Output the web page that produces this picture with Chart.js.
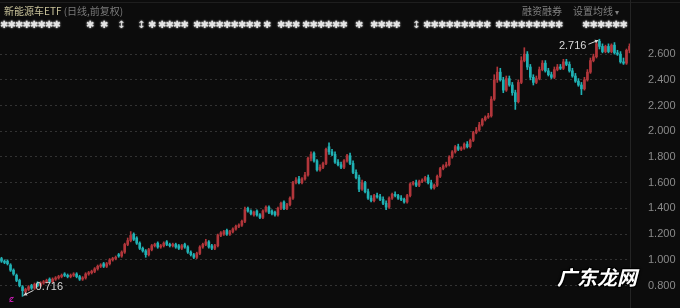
<!DOCTYPE html>
<html>
<head>
<meta charset="utf-8">
<script src="https://cdn.jsdelivr.net/npm/chart.js@4.4.0/dist/chart.umd.min.js"></script>
<style>
html, body { margin: 0; padding: 0; background: #0c0c0c; }
#wrap { position: relative; width: 680px; height: 308px; overflow: hidden; background: #0c0c0c; font-family: "Noto Sans CJK SC", "Noto Sans", sans-serif; }
#myChart { position: absolute; left: 0; top: 0; }
.topline { position: absolute; left: 0; top: 2px; width: 680px; height: 1px; background: #1e1e1e; }
.divider { position: absolute; left: 630px; top: 0; width: 1px; height: 308px; background: #242424; }
.title { position: absolute; left: 4px; top: 4px; font-size: 10px; line-height: 14px; color: #c8c29a; white-space: nowrap; }
.title span { color: #7a7a7a; }
.menu { position: absolute; top: 4px; font-size: 10px; line-height: 14px; color: #808080; white-space: nowrap; }
#marks span { position: absolute; top: 19px; font-size: 10px; line-height: 12px; color: #e4e4e4; text-shadow: 0 0 2px #fff; font-family: "DejaVu Sans", sans-serif; }
.wm { position: absolute; left: 557px; top: 264px; font-size: 20px; line-height: 26px; font-weight: bold; font-style: italic; color: #fff; white-space: nowrap;
      text-shadow: -1px -1px 0 #000, 1px -1px 0 #000, -1px 1px 0 #000, 1px 1px 0 #000, 0 0 3px #000; }
.bmark { position: absolute; left: 9px; top: 294px; font-size: 9px; line-height: 10px; color: #e020c8; font-family: "DejaVu Sans", sans-serif; }
</style>
</head>
<body>
<div id="wrap">
  <canvas id="myChart" width="680" height="308"></canvas>
  <div class="topline"></div>
  <div class="divider"></div>
  <div class="title">新能源车ETF <span>(日线,前复权)</span></div>
  <div class="menu" style="left:522px">融资融券</div>
  <div class="menu" style="left:573px">设置均线 <span style="font-size:8px">▾</span></div>
  <div id="marks"></div>
  <div class="bmark">ȼ</div>
  <div class="wm">广东龙网</div>
</div>
<script>
// Daily candles
const opens = [
  1.01,0.99,0.99,0.96,0.92,0.88,0.84,0.79,0.75,0.77,
  0.80,0.78,0.82,0.80,0.82,0.83,0.85,0.83,0.85,0.86,
  0.87,0.89,0.88,0.87,0.88,0.89,0.87,0.85,0.86,0.89,
  0.90,0.91,0.93,0.95,0.97,0.95,0.97,1.00,1.01,1.04,
  1.03,1.06,1.12,1.15,1.20,1.17,1.13,1.09,1.07,1.04,
  1.08,1.11,1.13,1.10,1.11,1.14,1.12,1.11,1.12,1.11,
  1.09,1.12,1.10,1.06,1.04,1.02,1.05,1.10,1.12,1.14,
  1.11,1.09,1.11,1.19,1.20,1.23,1.20,1.22,1.24,1.26,
  1.27,1.30,1.40,1.38,1.35,1.38,1.35,1.33,1.38,1.41,
  1.38,1.37,1.35,1.40,1.45,1.40,1.43,1.48,1.60,1.63,
  1.60,1.63,1.66,1.79,1.83,1.77,1.70,1.72,1.75,1.88,
  1.84,1.82,1.76,1.74,1.72,1.77,1.81,1.75,1.68,1.64,
  1.55,1.60,1.53,1.48,1.46,1.50,1.49,1.47,1.44,1.41,
  1.48,1.51,1.50,1.48,1.47,1.45,1.50,1.59,1.60,1.58,
  1.61,1.62,1.64,1.60,1.56,1.58,1.65,1.71,1.73,1.74,
  1.80,1.84,1.88,1.86,1.87,1.90,1.88,1.93,1.99,2.01,
  2.05,2.09,2.11,2.12,2.25,2.40,2.46,2.40,2.32,2.41,
  2.36,2.30,2.23,2.38,2.55,2.60,2.50,2.42,2.38,2.41,
  2.48,2.53,2.47,2.44,2.42,2.48,2.50,2.49,2.54,2.52,
  2.47,2.43,2.39,2.36,2.33,2.40,2.46,2.55,2.58,2.70,
  2.66,2.62,2.66,2.62,2.67,2.61,2.60,2.54,2.53,2.63
];
const highs = [
  1.02,1.00,1.00,0.97,0.93,0.89,0.85,0.80,0.78,0.80,
  0.81,0.82,0.83,0.83,0.84,0.85,0.86,0.86,0.87,0.88,
  0.89,0.90,0.89,0.89,0.90,0.90,0.88,0.87,0.90,0.91,
  0.92,0.94,0.96,0.97,0.98,0.98,1.01,1.02,1.03,1.05,
  1.07,1.13,1.17,1.22,1.21,1.18,1.14,1.10,1.08,1.09,
  1.12,1.13,1.14,1.12,1.14,1.15,1.13,1.13,1.13,1.12,
  1.12,1.13,1.11,1.07,1.05,1.06,1.11,1.13,1.16,1.15,
  1.12,1.12,1.20,1.22,1.23,1.24,1.23,1.25,1.27,1.28,
  1.31,1.41,1.41,1.39,1.38,1.39,1.36,1.39,1.42,1.42,
  1.39,1.38,1.41,1.45,1.46,1.44,1.49,1.61,1.64,1.65,
  1.64,1.68,1.80,1.84,1.84,1.78,1.74,1.76,1.87,1.91,
  1.86,1.84,1.78,1.76,1.78,1.82,1.83,1.77,1.70,1.66,
  1.62,1.61,1.55,1.50,1.51,1.52,1.51,1.49,1.46,1.49,
  1.52,1.53,1.51,1.50,1.48,1.51,1.60,1.61,1.62,1.62,
  1.63,1.65,1.66,1.62,1.59,1.66,1.72,1.74,1.76,1.81,
  1.85,1.89,1.90,1.88,1.91,1.92,1.94,2.00,2.03,2.07,
  2.10,2.12,2.14,2.27,2.44,2.50,2.49,2.42,2.43,2.43,
  2.38,2.32,2.40,2.58,2.65,2.62,2.52,2.44,2.43,2.50,
  2.55,2.55,2.49,2.46,2.50,2.52,2.52,2.56,2.56,2.54,
  2.49,2.45,2.41,2.38,2.42,2.48,2.57,2.60,2.69,2.716,
  2.68,2.67,2.68,2.68,2.69,2.63,2.62,2.57,2.64,2.68
];
const lows = [
  0.98,0.97,0.96,0.91,0.88,0.83,0.79,0.716,0.74,0.76,
  0.77,0.77,0.79,0.79,0.81,0.82,0.82,0.82,0.84,0.85,
  0.86,0.87,0.86,0.86,0.87,0.86,0.84,0.84,0.85,0.88,
  0.89,0.90,0.92,0.94,0.94,0.94,0.96,0.99,1.00,1.02,
  1.02,1.05,1.11,1.14,1.15,1.12,1.08,1.06,1.02,1.03,
  1.07,1.10,1.09,1.09,1.10,1.11,1.10,1.10,1.09,1.08,
  1.08,1.09,1.05,1.03,1.01,1.01,1.04,1.09,1.11,1.09,
  1.08,1.08,1.10,1.18,1.19,1.19,1.19,1.21,1.23,1.25,
  1.26,1.29,1.37,1.35,1.34,1.34,1.32,1.32,1.37,1.36,
  1.35,1.34,1.34,1.39,1.39,1.39,1.42,1.47,1.59,1.59,
  1.59,1.62,1.65,1.77,1.76,1.69,1.69,1.71,1.74,1.82,
  1.81,1.75,1.73,1.71,1.71,1.76,1.74,1.67,1.63,1.53,
  1.54,1.52,1.47,1.45,1.45,1.48,1.46,1.43,1.39,1.40,
  1.47,1.49,1.47,1.46,1.44,1.44,1.49,1.58,1.57,1.57,
  1.60,1.61,1.59,1.55,1.55,1.57,1.64,1.70,1.72,1.73,
  1.79,1.83,1.85,1.85,1.86,1.87,1.87,1.92,1.98,2.00,
  2.04,2.08,2.10,2.11,2.24,2.38,2.39,2.30,2.31,2.35,
  2.28,2.17,2.22,2.37,2.54,2.48,2.40,2.36,2.37,2.40,
  2.47,2.46,2.43,2.41,2.41,2.47,2.48,2.48,2.51,2.46,
  2.42,2.38,2.35,2.285,2.32,2.39,2.45,2.54,2.57,2.64,
  2.61,2.61,2.61,2.61,2.60,2.59,2.53,2.52,2.52,2.61
];
const closes = [
  0.99,0.98,0.97,0.92,0.89,0.84,0.80,0.76,0.77,0.79,
  0.78,0.81,0.80,0.82,0.83,0.84,0.83,0.85,0.86,0.87,
  0.88,0.88,0.87,0.88,0.89,0.87,0.85,0.86,0.89,0.90,
  0.91,0.93,0.95,0.96,0.95,0.97,1.00,1.01,1.02,1.03,
  1.06,1.12,1.15,1.19,1.16,1.13,1.09,1.07,1.04,1.08,
  1.11,1.12,1.10,1.11,1.13,1.12,1.11,1.12,1.10,1.09,
  1.11,1.10,1.06,1.04,1.02,1.05,1.10,1.12,1.14,1.10,
  1.09,1.11,1.19,1.21,1.22,1.20,1.22,1.24,1.26,1.27,
  1.30,1.39,1.38,1.36,1.37,1.35,1.33,1.38,1.41,1.37,
  1.36,1.35,1.40,1.44,1.40,1.43,1.48,1.60,1.62,1.60,
  1.63,1.66,1.79,1.82,1.77,1.70,1.72,1.75,1.86,1.84,
  1.82,1.76,1.74,1.72,1.77,1.81,1.75,1.68,1.64,1.55,
  1.60,1.53,1.48,1.46,1.50,1.49,1.47,1.44,1.41,1.48,
  1.51,1.50,1.48,1.47,1.45,1.50,1.59,1.60,1.58,1.61,
  1.62,1.64,1.60,1.56,1.58,1.65,1.71,1.73,1.74,1.80,
  1.84,1.88,1.86,1.87,1.90,1.88,1.93,1.99,2.01,2.05,
  2.09,2.11,2.12,2.25,2.40,2.46,2.40,2.32,2.41,2.36,
  2.30,2.23,2.38,2.55,2.60,2.50,2.42,2.38,2.41,2.48,
  2.53,2.47,2.44,2.42,2.48,2.50,2.49,2.54,2.52,2.47,
  2.43,2.39,2.36,2.33,2.40,2.46,2.55,2.58,2.68,2.66,
  2.62,2.66,2.62,2.67,2.61,2.60,2.54,2.53,2.63,2.66
];
const yTicks = [0.8, 1.0, 1.2, 1.4, 1.6, 1.8, 2.0, 2.2, 2.4, 2.6];

const upColor = '#b2363b';
const downColor = '#20b1b4';

// Decorative event markers along the top row
const markRanges = [[0,53],[86,86],[100,100],[148,148],[158,182],[193,253],[263,263],[277,295],[302,345],
                    [355,355],[370,395],[423,477],[483,483],[495,560],[582,624]];
const markArrows = [117, 137, 412];

document.addEventListener('DOMContentLoaded', function() {
    var marks = document.getElementById('marks');
    markRanges.forEach(function(r) {
        for (var x = r[0]; x <= r[1]; x += 7.5) {
            var s = document.createElement('span');
            s.textContent = '✱';
            s.style.left = x + 'px';
            marks.appendChild(s);
        }
    });
    markArrows.forEach(function(x) {
        var s = document.createElement('span');
        s.textContent = '↕';
        s.style.left = x + 'px';
        marks.appendChild(s);
    });

    var labels = closes.map(function(c, i) { return i + 1; });
    var colors = closes.map(function(c, i) { return c >= opens[i] ? upColor : downColor; });

    function arrow(ctx, x1, y1, x2, y2) {
        ctx.beginPath();
        ctx.moveTo(x1, y1);
        ctx.lineTo(x2, y2);
        ctx.stroke();
        var a = Math.atan2(y2 - y1, x2 - x1);
        ctx.beginPath();
        ctx.moveTo(x2, y2);
        ctx.lineTo(x2 - 4 * Math.cos(a - 0.5), y2 - 4 * Math.sin(a - 0.5));
        ctx.lineTo(x2 - 4 * Math.cos(a + 0.5), y2 - 4 * Math.sin(a + 0.5));
        ctx.closePath();
        ctx.fill();
    }

    // Max / min labels with small arrows
    var extremaLabels = {
        id: 'extremaLabels',
        afterDatasetsDraw: function(chart) {
            var ctx = chart.ctx, x = chart.scales.x, y = chart.scales.y;
            var hi = Math.max.apply(null, highs), lo = Math.min.apply(null, lows);
            var hx = x.getPixelForValue(highs.indexOf(hi)), hy = y.getPixelForValue(hi);
            var lx = x.getPixelForValue(lows.indexOf(lo)), ly = y.getPixelForValue(lo);
            ctx.save();
            ctx.font = '11px "Liberation Sans", Arial, sans-serif';
            ctx.fillStyle = '#d8d8d8';
            ctx.strokeStyle = '#d8d8d8';
            ctx.lineWidth = 1;
            ctx.textBaseline = 'middle';
            ctx.textAlign = 'right';
            ctx.fillText(hi.toFixed(3), hx - 13, hy + 7);
            arrow(ctx, hx - 11, hy + 5, hx - 1, hy + 1);
            ctx.textAlign = 'left';
            ctx.fillText(lo.toFixed(3), lx + 13, ly - 9);
            arrow(ctx, lx + 11, ly - 6, lx + 1, ly - 1);
            ctx.restore();
        }
    };

    var ctx = document.getElementById('myChart').getContext('2d');
    new Chart(ctx, {
        type: 'bar',
        data: {
            labels: labels,
            datasets: [{
                label: 'wick',
                data: lows.map(function(l, i) { return [l, highs[i]]; }),
                backgroundColor: colors,
                borderWidth: 0,
                barThickness: 1,
                grouped: false,
                order: 2
            }, {
                label: 'body',
                data: opens.map(function(o, i) { return [Math.min(o, closes[i]), Math.max(o, closes[i])]; }),
                backgroundColor: colors,
                borderWidth: 0,
                barThickness: 2,
                minBarLength: 1,
                grouped: false,
                order: 1
            }]
        },
        options: {
            responsive: false,
            animation: false,
            layout: { padding: { top: 31, bottom: 7, left: 0, right: 0 } },
            plugins: { legend: { display: false }, tooltip: { enabled: false } },
            scales: {
                x: { display: false, offset: true, grid: { display: false } },
                y: {
                    position: 'right',
                    min: 0.68,
                    max: 2.78,
                    afterBuildTicks: function(s) { s.ticks = yTicks.map(function(v) { return { value: v }; }); },
                    afterFit: function(s) { s.width = 49; s.paddingTop = 0; s.paddingBottom = 0; },
                    grid: { color: '#333333', drawTicks: false, lineWidth: 1 },
                    border: { display: false, dash: [2, 3] },
                    ticks: {
                        color: '#8a8a8a',
                        padding: 17,
                        font: { family: 'Liberation Sans', size: 11 },
                        callback: function(v) { return Number(v).toFixed(3); }
                    }
                }
            }
        },
        plugins: [extremaLabels]
    });
});
</script>
</body>
</html>
